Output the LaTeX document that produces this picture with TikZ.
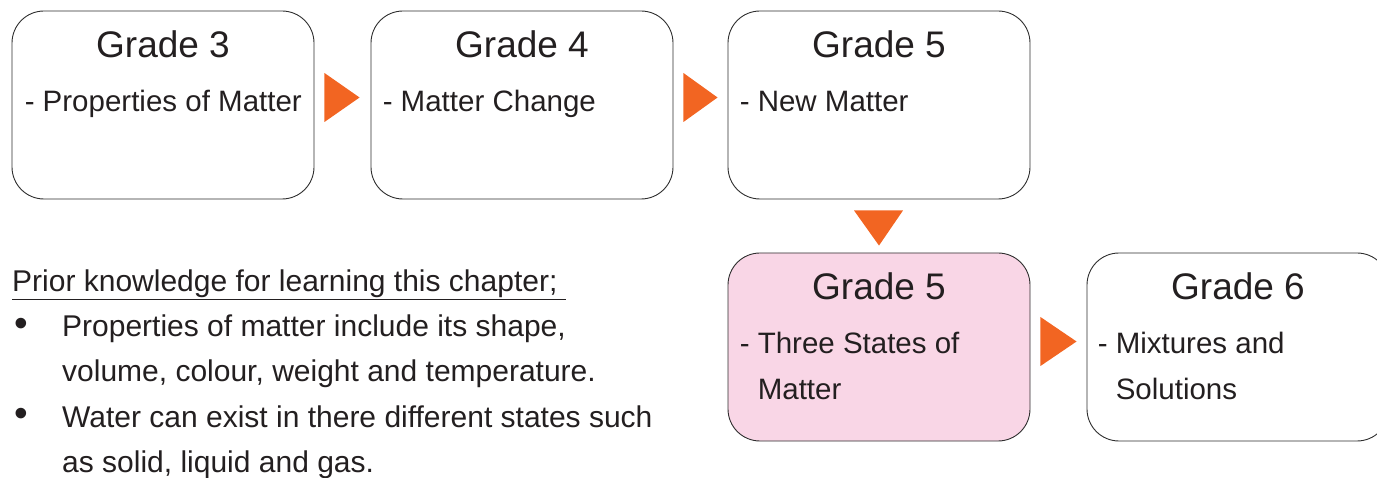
\documentclass[tikz,border=0pt]{standalone}
\usepackage{fontspec}
\setmainfont{Liberation Sans}
\usetikzlibrary{positioning, calc}
\definecolor{keyorange}{RGB}{242, 101, 34}
\definecolor{keypink}{RGB}{249, 214, 230}
\definecolor{keygray}{RGB}{45, 45, 45}
\definecolor{keytext}{RGB}{35, 31, 32}

\begin{document}
\begin{tikzpicture}[x=1pt, y=-1pt,
    grade/.style={draw=keygray, line width=0.9pt, rounded corners=32pt,
      minimum width=302pt, minimum height=188pt, inner sep=0pt},
    title/.style={anchor=base, inner sep=0pt, text=keytext,
      font=\fontsize{37}{44}\selectfont},
    topic/.style={anchor=base west, inner sep=0pt, text=keytext, align=left,
      font=\fontsize{29.5}{46}\selectfont},
    prior/.style={anchor=base west, inner sep=0pt, text=keytext, align=left,
      font=\fontsize{30}{45}\selectfont},
    tri/.style={fill=keyorange}]
  \clip (0,0) rectangle (1377,478);
  % grade boxes
  \node[grade] (g3) at (163,105) {};
  \node[grade] (g4) at (522,105) {};
  \node[grade] (g5) at (879,105) {};
  \node[grade, fill=keypink] (g5b) at (879,347) {};
  \node[grade] (g6) at (1238,347) {};
  % titles and topics (base of a two-line text is its last line)
  \node[title] (g3t) at ($(g3.north)+(0,47)$) {Grade 3};
  \node[topic] (g3s) at ($(g3.north west)+(13,101)$) {- Properties of Matter};
  \node[title] (g4t) at ($(g4.north)+(0,47)$) {Grade 4};
  \node[topic] (g4s) at ($(g4.north west)+(12,101)$) {- Matter Change};
  \node[title] (g5t) at ($(g5.north)+(0,47)$) {Grade 5};
  \node[topic] (g5s) at ($(g5.north west)+(12,101)$) {- New Matter};
  \node[title] (g5bt) at ($(g5b.north)+(0,47)$) {Grade 5};
  \node[topic] (g5bs) at ($(g5b.north west)+(12,147)$) {- Three States of\\\hphantom{- }Matter};
  \node[title] (g6t) at ($(g6.north)+(0,47)$) {Grade 6};
  \node[topic] (g6s) at ($(g6.north west)+(11,147)$) {- Mixtures and\\\hphantom{- }Solutions};
  % arrows between grades
  \fill[tri] ($(g3.east)+(10,-32)$) -- ($(g3.east)+(10,17)$) -- ($(g4.west)+(-11,-7.5)$) -- cycle;
  \fill[tri] ($(g4.east)+(10,-32)$) -- ($(g4.east)+(10,17)$) -- ($(g5.west)+(-10,-7.5)$) -- cycle;
  \fill[tri] ($(g5.south)+(-25,11)$) -- ($(g5.south)+(24,11)$) -- ($(g5b.north)+(0,-7)$) -- cycle;
  \fill[tri] ($(g5b.east)+(10,-30)$) -- ($(g5b.east)+(10,19)$) -- ($(g6.west)+(-10,-5.5)$) -- cycle;
  % prior knowledge
  \node[prior] (head) at (12,292) {\underline{Prior knowledge for learning this chapter;\ }};
  \node[prior] (d1) at (14,337) {\scalebox{1.3}{\textbullet}};
  \node[prior] (b1) at (62,382) {Properties of matter include its shape,\\volume, colour, weight and temperature.};
  \node[prior] (d2) at (14,427) {\scalebox{1.3}{\textbullet}};
  \node[prior] (b2) at (62,472) {Water can exist in there different states such\\as solid, liquid and gas.};
\end{tikzpicture}
\end{document}
